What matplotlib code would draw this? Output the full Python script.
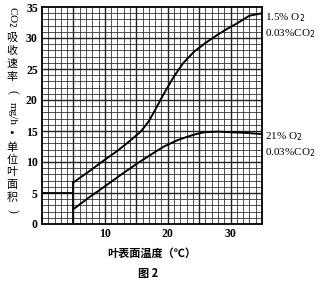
import matplotlib
matplotlib.use("Agg")
import matplotlib.pyplot as plt

# data
temp_low_o2 = [5, 7.5, 9.9, 12, 14.1, 15.8, 17.0, 18.0, 19.0, 20.0, 21.0, 22.5, 24.2, 26, 27.9, 29.5, 31.1, 33.0, 35]
rate_low_o2 = [6.7, 8.5, 10.3, 11.8, 13.5, 15.0, 16.6, 18.4, 20.3, 22.1, 23.8, 26.0, 27.8, 29.2, 30.5, 31.5, 32.4, 33.6, 34.0]
temp_high_o2 = [5, 7.5, 9.9, 12.5, 15.2, 17.5, 19.4, 21.5, 23.2, 24.5, 25.8, 28, 30, 32.5, 35]
rate_high_o2 = [2.4, 4.3, 6.0, 7.9, 9.8, 11.3, 12.5, 13.5, 14.1, 14.5, 14.8, 14.9, 14.8, 14.7, 14.5]
xticks = [10, 20, 30]
yticks = [0, 5, 10, 15, 20, 25, 30, 35]
label_low = ["1.5% O$_2$", "0.03%CO$_2$"]
label_high = ["21% O$_2$", "0.03%CO$_2$"]

W, H = 323, 282
fig = plt.figure(figsize=(W / 100, H / 100), dpi=100)
ax = fig.add_axes([42 / W, 1 - 224 / H, 220 / W, 217 / H])
ax.set_xlim(0, 35)
ax.set_ylim(0, 35)

for v in range(1, 35):
    lw = 1.0 if v % 5 == 0 else 0.55
    ax.axvline(v, color="#222222", lw=lw, zorder=1)
    ax.axhline(v, color="#222222", lw=lw, zorder=1)

ax.plot(temp_low_o2, rate_low_o2, color="black", lw=1.4, zorder=3, solid_joinstyle="round")
ax.plot(temp_high_o2, rate_high_o2, color="black", lw=1.4, zorder=3, solid_joinstyle="round")
ax.plot([5, 5], [0, rate_low_o2[0]], color="black", lw=1.3, zorder=3)
ax.plot([0, 5], [5, 5], color="black", lw=1.3, zorder=3)

for s in ax.spines.values():
    s.set_linewidth(1.3)
ax.set_xticks(xticks)
ax.set_yticks(yticks)
ax.tick_params(length=0, pad=3, labelsize=8.5)
for t in ax.get_xticklabels() + ax.get_yticklabels():
    t.set_fontfamily("Liberation Serif")
    t.set_fontweight("bold")

serif = ["Liberation Serif", "Noto Sans CJK SC"]
cjk = ["Noto Sans CJK SC", "DejaVu Sans"]

def px(x, y):
    return x / W, 1 - y / H

# right labels
fig.text(*px(265, 18), label_low[0], fontsize=8, family=serif, va="center", ha="left")
fig.text(*px(265, 34), label_low[1], fontsize=8, family=serif, va="center", ha="left")
fig.text(*px(265, 137), label_high[0], fontsize=8, family=serif, va="center", ha="left")
fig.text(*px(265, 153), label_high[1], fontsize=8, family=serif, va="center", ha="left")

# x label and caption
fig.text(*px(152, 253), "叶表面温度（℃）", fontsize=8, family=cjk, ha="center", va="center", fontweight="bold")
fig.text(*px(148, 273), "图 2", fontsize=8, family=cjk, ha="center", va="center", fontweight="bold")

# vertical y label
yl_x = 12
fig.text(*px(yl_x, 17), "CO$_2$", fontsize=8, family=serif, rotation=-90, ha="center", va="center")
for ch, yy in zip("吸收速率", [38, 51, 64, 77]):
    fig.text(*px(yl_x, yy), ch, fontsize=8, family=cjk, ha="center", va="center")
fig.text(*px(yl_x, 92), "(", fontsize=8.5, family=serif, rotation=-90, ha="center", va="center")
fig.text(*px(yl_x, 113), "mg/h", fontsize=8, family=serif, rotation=-90, ha="center", va="center")
fig.text(*px(yl_x, 134), "·", fontsize=9, family=cjk, ha="center", va="center", fontweight="bold")
for ch, yy in zip("单位叶面积", [148, 160, 172, 185, 198]):
    fig.text(*px(yl_x, yy), ch, fontsize=8, family=cjk, ha="center", va="center")
fig.text(*px(yl_x, 211), ")", fontsize=8.5, family=serif, rotation=-90, ha="center", va="center")

fig.savefig("out.png", dpi=100)
